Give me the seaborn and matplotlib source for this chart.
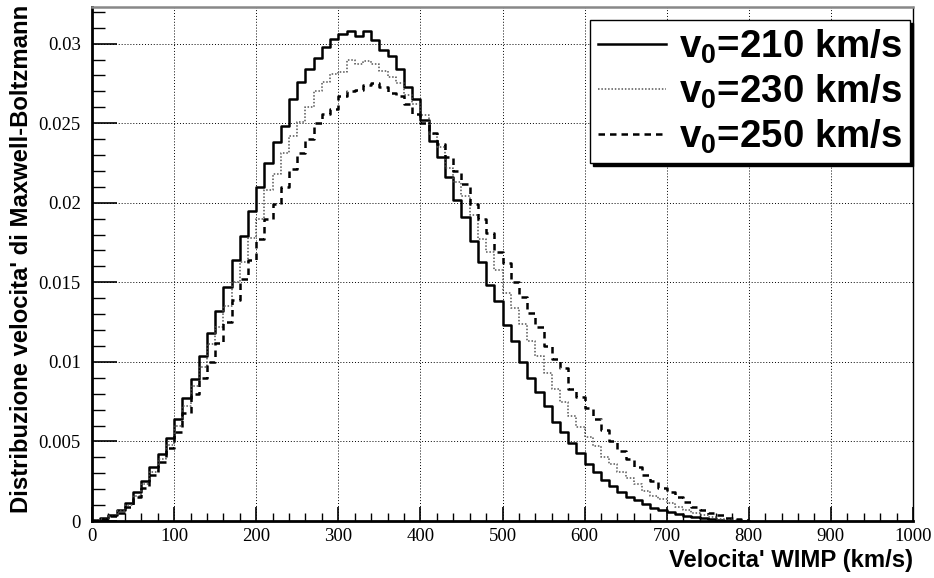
import matplotlib
matplotlib.use("Agg")
import numpy as np
import pandas as pd
import matplotlib.pyplot as plt
import seaborn as sns

# velocity bins (km/s), 10 km/s wide, 0..800
bin_edges = list(range(0, 810, 10))

# normalized Maxwell-Boltzmann velocity distributions, one value per bin
v0_210 = [0.00005, 0.0002, 0.0004, 0.0007, 0.0011, 0.0018, 0.0025, 0.0034, 0.0042, 0.0052,
          0.0064, 0.0077, 0.0089, 0.0104, 0.0118, 0.0132, 0.0147, 0.0164, 0.0179, 0.0195,
          0.0210, 0.0225, 0.0238, 0.0248, 0.0265, 0.0276, 0.0284, 0.0291, 0.0298, 0.0303,
          0.0306, 0.0308, 0.0305, 0.0308, 0.0302, 0.0296, 0.0292, 0.0284, 0.0273, 0.0265,
          0.0252, 0.0239, 0.0229, 0.0216, 0.0202, 0.0191, 0.0176, 0.0163, 0.0148, 0.0138,
          0.0123, 0.0113, 0.0100, 0.0090, 0.0081, 0.0072, 0.0062, 0.0056, 0.0049, 0.0043,
          0.0036, 0.0031, 0.0026, 0.0022, 0.0018, 0.0015, 0.0013, 0.00105, 0.00084, 0.0007,
          0.00055, 0.00044, 0.00033, 0.00027, 0.00017, 0.0001, 0.00006, 0.00003, 0.0, 0.0]

v0_230 = [0.00004, 0.00015, 0.0003, 0.0006, 0.0010, 0.0016, 0.0023, 0.0031, 0.0039, 0.0048,
          0.0060, 0.0072, 0.0085, 0.0097, 0.0111, 0.0122, 0.0135, 0.0150, 0.0163, 0.0178,
          0.0190, 0.0208, 0.0218, 0.0231, 0.0242, 0.0251, 0.0260, 0.0270, 0.0276, 0.0281,
          0.0282, 0.0290, 0.0287, 0.0289, 0.0287, 0.0283, 0.0279, 0.0275, 0.0268, 0.0262,
          0.0255, 0.0243, 0.0235, 0.0222, 0.0213, 0.0204, 0.0192, 0.0177, 0.0169, 0.0158,
          0.0143, 0.0134, 0.0124, 0.0113, 0.0104, 0.0093, 0.0083, 0.0075, 0.0066, 0.0059,
          0.0053, 0.0047, 0.0040, 0.0036, 0.0031, 0.0027, 0.0023, 0.0019, 0.0016, 0.0014,
          0.0011, 0.0009, 0.0007, 0.0005, 0.0004, 0.00025, 0.00015, 0.0001, 0.00005, 0.0]

v0_250 = [0.00003, 0.0001, 0.0003, 0.0005, 0.0009, 0.0015, 0.0021, 0.0029, 0.0037, 0.0046,
          0.0056, 0.0068, 0.0080, 0.0090, 0.0100, 0.0112, 0.0125, 0.0139, 0.0152, 0.0164,
          0.0177, 0.0190, 0.0199, 0.0210, 0.0221, 0.0231, 0.0240, 0.0250, 0.0256, 0.0259,
          0.0267, 0.0270, 0.0271, 0.0274, 0.0275, 0.0273, 0.0269, 0.0267, 0.0262, 0.0256,
          0.0250, 0.0244, 0.0237, 0.0229, 0.0220, 0.0212, 0.0199, 0.0190, 0.0181, 0.0169,
          0.0162, 0.0150, 0.0141, 0.0131, 0.0122, 0.0110, 0.0102, 0.0096, 0.0083, 0.0078,
          0.0071, 0.0064, 0.0057, 0.0050, 0.0044, 0.0039, 0.0034, 0.0029, 0.0025, 0.0021,
          0.0018, 0.0015, 0.0012, 0.0009, 0.0007, 0.0005, 0.0004, 0.0002, 0.0001, 0.00005]

series_labels = [r"v$_{0}$=210 km/s", r"v$_{0}$=230 km/s", r"v$_{0}$=250 km/s"]
x_ticks = [0, 100, 200, 300, 400, 500, 600, 700, 800, 900, 1000]
y_ticks = [0, 0.005, 0.01, 0.015, 0.02, 0.025, 0.03]
y_tick_labels = ["0", "0.005", "0.01", "0.015", "0.02", "0.025", "0.03"]

plt.rcParams["mathtext.fontset"] = "custom"
plt.rcParams["mathtext.bf"] = "Liberation Sans:bold"
plt.rcParams["mathtext.rm"] = "Liberation Sans:bold"
plt.rcParams["mathtext.default"] = "bf"

centers = np.array(bin_edges[:-1]) + 5
df = pd.DataFrame({"v": centers, "w210": v0_210, "w230": v0_230, "w250": v0_250})

fig = plt.figure(figsize=(9.34, 5.78), dpi=100)
ax = fig.add_axes([92 / 934, 1 - 521 / 578, (913 - 92) / 934, (521 - 7) / 578])

styles = [
    dict(color="black", linewidth=1.8, linestyle="-"),
    dict(color="#555555", linewidth=1.1, linestyle=(0, (1, 1.2))),
    dict(color="black", linewidth=1.8, linestyle=(0, (2.6, 2.0))),
]
for col, lab, st in zip(["w210", "w230", "w250"], series_labels, styles):
    sns.histplot(data=df, x="v", weights=col, bins=bin_edges, element="step",
                 fill=False, ax=ax, label=lab, **st)

ax.set_xlim(0, 1000)
ax.set_ylim(0, 0.0323)
ax.set_xlabel("")
ax.set_ylabel("")

ax.set_xticks(x_ticks)
ax.set_xticklabels([str(t) for t in x_ticks], family="Liberation Serif", fontsize=13.5)
ax.set_xticks(np.arange(0, 1001, 20), minor=True)
ax.set_yticks(y_ticks)
ax.set_yticklabels(y_tick_labels, family="Liberation Serif", fontsize=13.5)
ax.set_yticks(np.arange(0, 0.0321, 0.001), minor=True)

ax.tick_params(axis="x", which="major", direction="in", length=10, width=1.2, pad=5,
               top=False)
ax.tick_params(axis="x", which="minor", direction="in", length=5.5, width=1.0, top=False)
ax.tick_params(axis="y", which="major", direction="in", length=18, width=1.2, pad=8,
               right=False)
ax.tick_params(axis="y", which="minor", direction="in", length=9, width=1.0, right=False)

ax.grid(True, which="major", color="black", linestyle=(0, (1, 2)), linewidth=0.7)
ax.set_axisbelow(True)

ax.spines["left"].set_linewidth(2.0)
ax.spines["bottom"].set_linewidth(2.0)
ax.spines["top"].set_color("#888888")
ax.spines["top"].set_linewidth(1.8)
ax.spines["right"].set_linewidth(1.0)

leg = ax.legend(loc="upper right", bbox_to_anchor=(910 / 934, 1 - 20 / 578),
                bbox_transform=fig.transFigure, borderaxespad=0,
                prop={"family": "Liberation Sans", "weight": "bold", "size": 27.7},
                frameon=True, fancybox=False, edgecolor="black", framealpha=1,
                shadow={"color": "black", "alpha": 1},
                handlelength=1.75, handletextpad=0.35, labelspacing=0.17, borderpad=0.2)
leg.get_frame().set_linewidth(1.0)

fig.text(22 / 934, 1 - 5 / 578, "Distribuzione velocita' di Maxwell-Boltzmann",
         rotation=90, ha="center", va="top", family="Liberation Sans",
         weight="bold", fontsize=17.2)
fig.text(913 / 934, 1 - 561 / 578, "Velocita' WIMP (km/s)", ha="right", va="center",
         family="Liberation Sans", weight="bold", fontsize=17.2)

fig.savefig("out.png", dpi=100)
